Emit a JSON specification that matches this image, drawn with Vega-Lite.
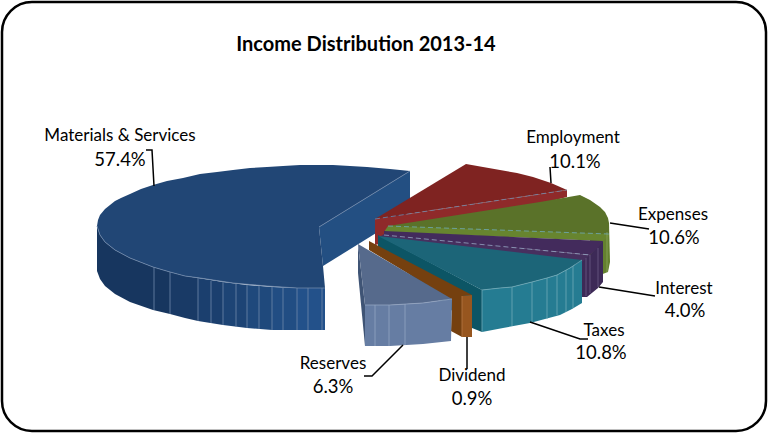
{
  "$schema": "https://vega.github.io/schema/vega-lite/v6.json",
  "width": 769,
  "height": 434,
  "autosize": {"type": "fit", "contains": "padding"},
  "padding": {"left": 2, "top": 2, "right": 3, "bottom": 3},
  "background": "white",
  "view": {"stroke": "#000000", "strokeWidth": 2.5, "cornerRadius": 30, "fill": "white"},
  "config": {"text": {"font": "Lato"}},
  "datasets": {
    "faces": [
      {"p":"materials wall","x":319,"y":227},{"p":"materials wall","x":410,"y":171},{"p":"materials wall","x":410,"y":212},{"p":"materials wall","x":323,"y":266},

      {"p":"materials side 1","x":97,"y":226},{"p":"materials side 1","x":100,"y":235},{"p":"materials side 1","x":105,"y":242},{"p":"materials side 1","x":115,"y":250},{"p":"materials side 1","x":130,"y":258},{"p":"materials side 1","x":153,"y":267},{"p":"materials side 1","x":170,"y":272},{"p":"materials side 1","x":170,"y":314},{"p":"materials side 1","x":153,"y":310},{"p":"materials side 1","x":130,"y":302},{"p":"materials side 1","x":115,"y":294},{"p":"materials side 1","x":105,"y":286},{"p":"materials side 1","x":100,"y":279},{"p":"materials side 1","x":97,"y":271},
      {"p":"materials side 2","x":170,"y":272},{"p":"materials side 2","x":185,"y":276},{"p":"materials side 2","x":198,"y":278},{"p":"materials side 2","x":198,"y":321},{"p":"materials side 2","x":185,"y":318},{"p":"materials side 2","x":170,"y":314},
      {"p":"materials side 3","x":198,"y":278},{"p":"materials side 3","x":223,"y":282},{"p":"materials side 3","x":223,"y":325},{"p":"materials side 3","x":198,"y":321},
      {"p":"materials side 4","x":223,"y":282},{"p":"materials side 4","x":247,"y":285},{"p":"materials side 4","x":247,"y":328},{"p":"materials side 4","x":223,"y":325},
      {"p":"materials side 5","x":247,"y":285},{"p":"materials side 5","x":272,"y":287},{"p":"materials side 5","x":272,"y":330},{"p":"materials side 5","x":247,"y":328},
      {"p":"materials side 6","x":272,"y":287},{"p":"materials side 6","x":297,"y":288},{"p":"materials side 6","x":297,"y":330},{"p":"materials side 6","x":272,"y":330},
      {"p":"materials side 7","x":297,"y":288},{"p":"materials side 7","x":325,"y":288},{"p":"materials side 7","x":325,"y":330},{"p":"materials side 7","x":297,"y":330},

      {"p":"materials top","x":319,"y":227},{"p":"materials top","x":410,"y":171},{"p":"materials top","x":390,"y":169},{"p":"materials top","x":367,"y":167},{"p":"materials top","x":333,"y":165},{"p":"materials top","x":300,"y":165},{"p":"materials top","x":283,"y":166},{"p":"materials top","x":267,"y":167},{"p":"materials top","x":250,"y":168},{"p":"materials top","x":233,"y":170},{"p":"materials top","x":217,"y":172},{"p":"materials top","x":200,"y":174},{"p":"materials top","x":183,"y":178},{"p":"materials top","x":167,"y":181},{"p":"materials top","x":153,"y":185},{"p":"materials top","x":141,"y":189},{"p":"materials top","x":130,"y":194},{"p":"materials top","x":121,"y":198},{"p":"materials top","x":115,"y":201},{"p":"materials top","x":105,"y":209},{"p":"materials top","x":100,"y":215},{"p":"materials top","x":98,"y":220},{"p":"materials top","x":97,"y":226},{"p":"materials top","x":100,"y":235},{"p":"materials top","x":105,"y":242},{"p":"materials top","x":115,"y":250},{"p":"materials top","x":130,"y":258},{"p":"materials top","x":153,"y":267},{"p":"materials top","x":170,"y":272},{"p":"materials top","x":185,"y":276},{"p":"materials top","x":200,"y":278},{"p":"materials top","x":233,"y":283},{"p":"materials top","x":267,"y":286},{"p":"materials top","x":297,"y":288},{"p":"materials top","x":325,"y":288},{"p":"materials top","x":323,"y":266},

      {"p":"employment wall","x":375,"y":219},{"p":"employment wall","x":567,"y":190},{"p":"employment wall","x":567,"y":197},{"p":"employment wall","x":400,"y":240},{"p":"employment wall","x":375,"y":245},
      {"p":"employment top","x":375,"y":219},{"p":"employment top","x":466,"y":164},{"p":"employment top","x":483,"y":167},{"p":"employment top","x":500,"y":170},{"p":"employment top","x":517,"y":173},{"p":"employment top","x":533,"y":177},{"p":"employment top","x":551,"y":183},{"p":"employment top","x":567,"y":190},

      {"p":"expenses side","x":609,"y":223},{"p":"expenses side","x":610,"y":262},{"p":"expenses side","x":608,"y":272},{"p":"expenses side","x":600,"y":275},{"p":"expenses side","x":590,"y":270},{"p":"expenses side","x":590,"y":235},
      {"p":"expenses wall","x":388,"y":226},{"p":"expenses wall","x":609,"y":223},{"p":"expenses wall","x":609,"y":236},{"p":"expenses wall","x":603,"y":241},{"p":"expenses wall","x":384,"y":232},
      {"p":"expenses top","x":388,"y":226},{"p":"expenses top","x":540,"y":202},{"p":"expenses top","x":580,"y":195},{"p":"expenses top","x":590,"y":200},{"p":"expenses top","x":600,"y":207},{"p":"expenses top","x":605,"y":212},{"p":"expenses top","x":608,"y":218},{"p":"expenses top","x":609,"y":223},{"p":"expenses top","x":609,"y":234},

      {"p":"interest side","x":590,"y":255},{"p":"interest side","x":603,"y":241},{"p":"interest side","x":603,"y":282},{"p":"interest side","x":598,"y":288},{"p":"interest side","x":587,"y":297},{"p":"interest side","x":575,"y":297},{"p":"interest side","x":575,"y":258},
      {"p":"interest wall","x":384,"y":234},{"p":"interest wall","x":590,"y":255},{"p":"interest wall","x":582,"y":262},{"p":"interest wall","x":378,"y":238},
      {"p":"interest top","x":384,"y":231},{"p":"interest top","x":603,"y":241},{"p":"interest top","x":598,"y":248},{"p":"interest top","x":590,"y":255},{"p":"interest top","x":384,"y":235},

      {"p":"taxes side","x":482,"y":290},{"p":"taxes side","x":500,"y":288},{"p":"taxes side","x":512,"y":287},{"p":"taxes side","x":532,"y":282},{"p":"taxes side","x":547,"y":278},{"p":"taxes side","x":557,"y":275},{"p":"taxes side","x":570,"y":268},{"p":"taxes side","x":582,"y":260},{"p":"taxes side","x":582,"y":303},{"p":"taxes side","x":572,"y":309},{"p":"taxes side","x":560,"y":315},{"p":"taxes side","x":545,"y":319},{"p":"taxes side","x":530,"y":323},{"p":"taxes side","x":503,"y":328},{"p":"taxes side","x":482,"y":332},
      {"p":"taxes wall","x":378,"y":235},{"p":"taxes wall","x":482,"y":290},{"p":"taxes wall","x":482,"y":332},{"p":"taxes wall","x":472,"y":328},{"p":"taxes wall","x":378,"y":247},
      {"p":"taxes top","x":378,"y":236},{"p":"taxes top","x":582,"y":260},{"p":"taxes top","x":570,"y":268},{"p":"taxes top","x":557,"y":275},{"p":"taxes top","x":547,"y":278},{"p":"taxes top","x":532,"y":282},{"p":"taxes top","x":512,"y":287},{"p":"taxes top","x":500,"y":288},{"p":"taxes top","x":482,"y":290},

      {"p":"dividend wall","x":369,"y":241},{"p":"dividend wall","x":472,"y":295},{"p":"dividend wall","x":462,"y":296},{"p":"dividend wall","x":462,"y":337},{"p":"dividend wall","x":451,"y":331},{"p":"dividend wall","x":452,"y":300},{"p":"dividend wall","x":369,"y":250},
      {"p":"dividend side","x":462,"y":296},{"p":"dividend side","x":472,"y":295},{"p":"dividend side","x":472,"y":337},{"p":"dividend side","x":462,"y":337},

      {"p":"reserves edge","x":358,"y":244},{"p":"reserves edge","x":365,"y":305},{"p":"reserves edge","x":365,"y":346},{"p":"reserves edge","x":358,"y":273},
      {"p":"reserves side","x":365,"y":305},{"p":"reserves side","x":390,"y":305},{"p":"reserves side","x":423,"y":303},{"p":"reserves side","x":452,"y":299},{"p":"reserves side","x":451,"y":341},{"p":"reserves side","x":423,"y":344},{"p":"reserves side","x":390,"y":346},{"p":"reserves side","x":365,"y":346},
      {"p":"reserves top","x":358,"y":244},{"p":"reserves top","x":452,"y":299},{"p":"reserves top","x":423,"y":303},{"p":"reserves top","x":390,"y":305},{"p":"reserves top","x":365,"y":305}
    ],
    "edges": [
      {"g":"m0","e":"blue","x":319,"y":227},{"g":"m0","e":"blue","x":410,"y":171},
      {"g":"m1","e":"blue","x":154,"y":267},{"g":"m1","e":"blue","x":154,"y":310},
      {"g":"m2","e":"blue","x":170,"y":272},{"g":"m2","e":"blue","x":170,"y":314},
      {"g":"m3","e":"blue","x":198,"y":278},{"g":"m3","e":"blue","x":198,"y":321},
      {"g":"m4","e":"blue","x":211,"y":281},{"g":"m4","e":"blue","x":211,"y":323},
      {"g":"m5","e":"blue","x":223,"y":282},{"g":"m5","e":"blue","x":223,"y":325},
      {"g":"m6","e":"blue","x":236,"y":284},{"g":"m6","e":"blue","x":236,"y":327},
      {"g":"m7","e":"blue","x":247,"y":285},{"g":"m7","e":"blue","x":247,"y":328},
      {"g":"m8","e":"blue","x":259,"y":286},{"g":"m8","e":"blue","x":259,"y":329},
      {"g":"m9","e":"blue","x":272,"y":287},{"g":"m9","e":"blue","x":272,"y":330},
      {"g":"m10","e":"blue","x":283,"y":287},{"g":"m10","e":"blue","x":283,"y":330},
      {"g":"m11","e":"blue","x":297,"y":288},{"g":"m11","e":"blue","x":297,"y":330},
      {"g":"m12","e":"blue","x":308,"y":288},{"g":"m12","e":"blue","x":308,"y":330},
      {"g":"m13","e":"blue","x":322,"y":288},{"g":"m13","e":"blue","x":322,"y":330},
      {"g":"mc","e":"blue","x":97,"y":226},{"g":"mc","e":"blue","x":100,"y":235},{"g":"mc","e":"blue","x":105,"y":242},{"g":"mc","e":"blue","x":115,"y":250},{"g":"mc","e":"blue","x":130,"y":258},{"g":"mc","e":"blue","x":153,"y":267},{"g":"mc","e":"blue","x":170,"y":272},{"g":"mc","e":"blue","x":185,"y":276},{"g":"mc","e":"blue","x":200,"y":278},{"g":"mc","e":"blue","x":233,"y":283},{"g":"mc","e":"blue","x":267,"y":286},{"g":"mc","e":"blue","x":297,"y":288},{"g":"mc","e":"blue","x":325,"y":288},
      {"g":"t1","e":"teal","x":482,"y":290},{"g":"t1","e":"teal","x":482,"y":332},
      {"g":"t2","e":"teal","x":512,"y":287},{"g":"t2","e":"teal","x":512,"y":326},
      {"g":"t3","e":"teal","x":532,"y":282},{"g":"t3","e":"teal","x":532,"y":322},
      {"g":"t4","e":"teal","x":547,"y":278},{"g":"t4","e":"teal","x":547,"y":319},
      {"g":"t5","e":"teal","x":557,"y":275},{"g":"t5","e":"teal","x":557,"y":315},
      {"g":"t6","e":"teal","x":566,"y":270},{"g":"t6","e":"teal","x":566,"y":312},
      {"g":"t7","e":"teal","x":573,"y":266},{"g":"t7","e":"teal","x":573,"y":308},
      {"g":"tc","e":"teal","x":482,"y":290},{"g":"tc","e":"teal","x":500,"y":288},{"g":"tc","e":"teal","x":512,"y":287},{"g":"tc","e":"teal","x":532,"y":282},{"g":"tc","e":"teal","x":547,"y":278},{"g":"tc","e":"teal","x":557,"y":275},{"g":"tc","e":"teal","x":570,"y":268},{"g":"tc","e":"teal","x":582,"y":260},
      {"g":"r1","e":"slate","x":375,"y":305},{"g":"r1","e":"slate","x":375,"y":346},
      {"g":"r2","e":"slate","x":389,"y":305},{"g":"r2","e":"slate","x":389,"y":346},
      {"g":"r3","e":"slate","x":405,"y":304},{"g":"r3","e":"slate","x":405,"y":345},
      {"g":"rc","e":"slate","x":365,"y":305},{"g":"rc","e":"slate","x":390,"y":305},{"g":"rc","e":"slate","x":423,"y":303},{"g":"rc","e":"slate","x":452,"y":299},
      {"g":"i1","e":"plum","x":586,"y":258},{"g":"i1","e":"plum","x":586,"y":296},
      {"g":"i2","e":"plum","x":590,"y":255},{"g":"i2","e":"plum","x":590,"y":293},
      {"g":"i3","e":"plum","x":598,"y":248},{"g":"i3","e":"plum","x":598,"y":287},
      {"g":"x1","e":"moss","x":607,"y":232},{"g":"x1","e":"moss","x":607,"y":272},
      {"g":"d1","e":"rust","x":462,"y":296},{"g":"d1","e":"rust","x":462,"y":337}
    ],
    "dashes": [
      {"g":"employment","e":"rose","x":375,"y":219},{"g":"employment","e":"rose","x":567,"y":190},
      {"g":"expenses","e":"bark","x":388,"y":226},{"g":"expenses","e":"bark","x":609,"y":234},
      {"g":"interest","e":"mauve","x":384,"y":235},{"g":"interest","e":"mauve","x":590,"y":255}
    ],
    "leaders": [
      {"s":"Materials & Services","x":146,"y":150},{"s":"Materials & Services","x":152,"y":150},{"s":"Materials & Services","x":154,"y":186},
      {"s":"Employment","x":550,"y":167},{"s":"Employment","x":551,"y":183},
      {"s":"Expenses","x":610,"y":223},{"s":"Expenses","x":649,"y":229},
      {"s":"Interest","x":599,"y":287},{"s":"Interest","x":655,"y":296},
      {"s":"Taxes","x":530,"y":322},{"s":"Taxes","x":580,"y":339},{"s":"Taxes","x":588,"y":339},
      {"s":"Dividend","x":467,"y":337},{"s":"Dividend","x":467,"y":369},
      {"s":"Reserves","x":403,"y":345},{"s":"Reserves","x":372,"y":376},{"s":"Reserves","x":364,"y":376}
    ],
    "slices": [
      {"name":"Materials & Services","share":0.574,"nx":120,"ny":136,"vx":120,"vy":160},
      {"name":"Employment","share":0.101,"nx":573,"ny":138,"vx":575,"vy":162},
      {"name":"Expenses","share":0.106,"nx":673,"ny":215,"vx":674,"vy":238},
      {"name":"Interest","share":0.04,"nx":684,"ny":289,"vx":685,"vy":311},
      {"name":"Taxes","share":0.108,"nx":604,"ny":331,"vx":601,"vy":353},
      {"name":"Dividend","share":0.009,"nx":472,"ny":376,"vx":472,"vy":399},
      {"name":"Reserves","share":0.063,"nx":333,"ny":364,"vx":333,"vy":387}
    ],
    "heading": [{"t":"Income Distribution 2013-14","x":366,"y":45}]
  },
  "encoding": {
    "x": {"field": "x", "type": "quantitative", "axis": null, "scale": {"domain": [2, 766], "nice": false, "zero": false}},
    "y": {"field": "y", "type": "quantitative", "axis": null, "scale": {"domain": [2, 431], "nice": false, "zero": false, "reverse": true}}
  },
  "layer": [
    {
      "data": {"name": "faces"},
      "transform": [{"window": [{"op": "row_number", "as": "vertex"}]}],
      "mark": {"type": "line", "strokeWidth": 0, "interpolate": "linear"},
      "encoding": {
        "order": {"field": "vertex", "type": "quantitative"},
        "fill": {
          "field": "p", "type": "nominal", "legend": null,
          "scale": {
            "domain": ["materials wall","materials side 1","materials side 2","materials side 3","materials side 4","materials side 5","materials side 6","materials side 7","materials top","employment wall","employment top","expenses side","expenses wall","expenses top","interest side","interest wall","interest top","taxes side","taxes wall","taxes top","dividend wall","dividend side","reserves edge","reserves side","reserves top"],
            "range": ["#234f82","#17365f","#193a66","#1b3f6e","#1d4475","#1f497c","#214d83","#23518a","#214675","#8f2a2a","#7f2321","#64812f","#67852f","#5a7229","#3d2a57","#47305f","#432b5c","#257c92","#0c5565","#1c6578","#75400f","#97561f","#3f5475","#667da3","#566a8c"]
          }
        }
      }
    },
    {
      "data": {"name": "edges"},
      "transform": [{"window": [{"op": "row_number", "as": "vertex"}]}],
      "mark": {"type": "line", "strokeWidth": 0.8},
      "encoding": {
        "order": {"field": "vertex", "type": "quantitative"},
        "detail": {"field": "g"},
        "stroke": {
          "field": "e", "type": "nominal", "legend": null,
          "scale": {
            "domain": ["blue","teal","slate","plum","moss","rust"],
            "range": ["#6f88aa","#6fa9b8","#93a5c2","#6d5a86","#8aa35c","#b87a45"]
          }
        }
      }
    },
    {
      "data": {"name": "dashes"},
      "mark": {"type": "line", "strokeWidth": 0.8, "strokeDash": [5, 3]},
      "encoding": {
        "detail": {"field": "g"},
        "stroke": {
          "field": "e", "type": "nominal", "legend": null,
          "scale": {"domain": ["rose","bark","mauve"], "range": ["#bd6f6c","#80672b","#6b4a55"]}
        }
      }
    },
    {
      "data": {"name": "leaders"},
      "transform": [{"window": [{"op": "row_number", "as": "vertex"}]}],
      "mark": {"type": "line", "stroke": "#000000", "strokeWidth": 1.5},
      "encoding": {"order": {"field": "vertex", "type": "quantitative"}, "detail": {"field": "s"}}
    },
    {
      "data": {"name": "slices"},
      "mark": {"type": "text", "fontSize": 17, "color": "#000000", "align": "center", "baseline": "middle"},
      "encoding": {
        "x": {"field": "nx", "type": "quantitative"},
        "y": {"field": "ny", "type": "quantitative"},
        "text": {"field": "name"}
      }
    },
    {
      "data": {"name": "slices"},
      "mark": {"type": "text", "fontSize": 18.5, "color": "#000000", "align": "center", "baseline": "middle"},
      "encoding": {
        "x": {"field": "vx", "type": "quantitative"},
        "y": {"field": "vy", "type": "quantitative"},
        "text": {"field": "share", "type": "quantitative", "format": ".1%"}
      }
    },
    {
      "data": {"name": "heading"},
      "mark": {"type": "text", "fontSize": 20, "fontWeight": "bold", "color": "#000000", "align": "center", "baseline": "middle"},
      "encoding": {"text": {"field": "t"}}
    }
  ]
}
